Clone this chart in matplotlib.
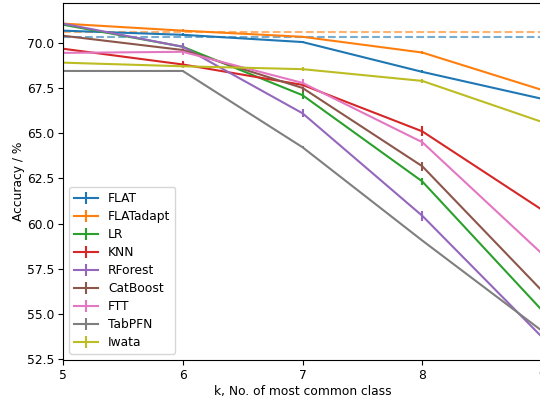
import matplotlib
matplotlib.use("Agg")
import matplotlib.pyplot as plt
import numpy as np

k_values = [5, 6, 7, 8, 9]

flat = [70.67, 70.44, 70.04, 68.39, 66.90]
flat_adapt = [71.06, 70.67, 70.33, 69.46, 67.39]
lr = [71.00, 69.78, 67.10, 62.33, 55.20]
knn = [69.67, 68.80, 67.67, 65.10, 60.76]
rforest = [71.06, 69.78, 66.10, 60.43, 53.72]
catboost = [70.39, 69.60, 67.50, 63.17, 56.28]
ftt = [69.44, 69.50, 67.78, 64.50, 58.33]
tabpfn = [68.44, 68.44, 64.22, 59.06, 54.06]
iwata = [68.90, 68.70, 68.54, 67.89, 65.62]

flat_err = [0.05, 0.08, 0.06, 0.08, 0.05]
flat_adapt_err = [0.05, 0.10, 0.06, 0.08, 0.05]
lr_err = [0.10, 0.15, 0.20, 0.20, 0.10]
knn_err = [0.20, 0.20, 0.15, 0.28, 0.10]
rforest_err = [0.25, 0.20, 0.22, 0.28, 0.10]
catboost_err = [0.10, 0.10, 0.25, 0.25, 0.10]
ftt_err = [0.10, 0.20, 0.20, 0.20, 0.10]
tabpfn_err = [0.05, 0.05, 0.05, 0.05, 0.05]
iwata_err = [0.05, 0.10, 0.12, 0.12, 0.05]

flat_ref = 70.33
flat_adapt_ref = 70.61

series = [
    ("FLAT", flat, flat_err),
    ("FLATadapt", flat_adapt, flat_adapt_err),
    ("LR", lr, lr_err),
    ("KNN", knn, knn_err),
    ("RForest", rforest, rforest_err),
    ("CatBoost", catboost, catboost_err),
    ("FTT", ftt, ftt_err),
    ("TabPFN", tabpfn, tabpfn_err),
    ("Iwata", iwata, iwata_err),
]

FS = 8.8

fig = plt.figure(figsize=(5.4, 4.0), dpi=100)
ax = fig.add_axes([63 / 540, 40 / 400, (542 - 63) / 540, (360 - 3) / 400])

colors = plt.rcParams["axes.prop_cycle"].by_key()["color"]
for i, (name, vals, err) in enumerate(series):
    ax.errorbar(k_values, vals, yerr=err, label=name, color=colors[i], lw=1.5)

ax.axhline(flat_ref, color=colors[0], ls="--", alpha=0.6, lw=1.5)
ax.axhline(flat_adapt_ref, color=colors[1], ls="--", alpha=0.6, lw=1.5)

ax.set_xlim(5, 9)
ax.set_ylim(52.45, 72.2)
ax.set_xticks(k_values)
ax.set_yticks([52.5, 55.0, 57.5, 60.0, 62.5, 65.0, 67.5, 70.0])
ax.tick_params(labelsize=FS, pad=3)
ax.set_xlabel("k, No. of most common class", fontsize=FS, labelpad=2)
ax.set_ylabel("Accuracy / %", fontsize=FS, labelpad=1)
ax.legend(loc="lower left", fontsize=FS, labelspacing=0.41)

fig.savefig("out.png", dpi=100)
